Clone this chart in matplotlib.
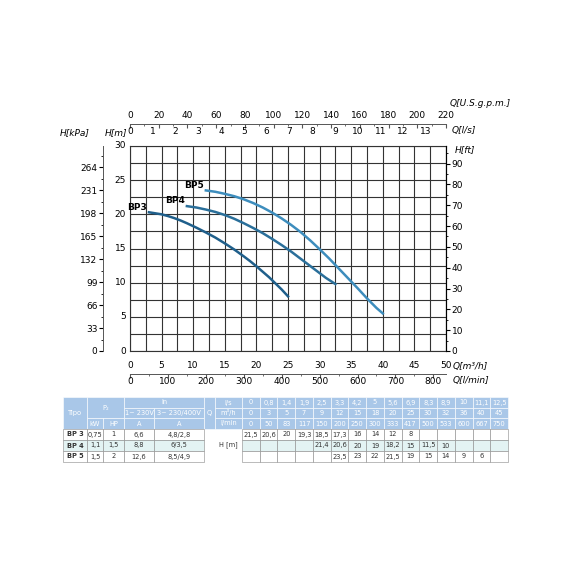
import matplotlib
matplotlib.use("Agg")
import matplotlib.pyplot as plt
import numpy as np
from matplotlib.patches import Rectangle

# ---- data ----
bp3_q = [3, 4, 5, 6, 7, 8, 9, 10.5, 12, 13.5, 15, 16.5, 18, 19, 20, 21, 22, 23, 24, 25]
bp3_h = [20.3, 20.15, 20.0, 19.75, 19.45, 19.1, 18.7, 18.05, 17.35, 16.6, 15.75, 14.85, 13.85, 13.15, 12.4, 11.6, 10.8, 9.9, 9.0, 8.0]
bp4_q = [9, 10.5, 12, 13.5, 15, 16.5, 18, 19.5, 21, 22.5, 24, 25.5, 27, 28.5, 30, 31, 32, 32.5]
bp4_h = [21.2, 21.0, 20.7, 20.35, 19.9, 19.35, 18.7, 18.0, 17.25, 16.4, 15.5, 14.55, 13.5, 12.45, 11.4, 10.7, 10.1, 9.8]
bp5_q = [12, 13.5, 15, 16.5, 18, 19.5, 21, 22.5, 24, 25.5, 27, 28.5, 30, 31.5, 33, 34.5, 36, 37.5, 39, 40]
bp5_h = [23.5, 23.3, 23.0, 22.65, 22.2, 21.65, 21.0, 20.25, 19.4, 18.45, 17.4, 16.2, 14.9, 13.55, 12.1, 10.65, 9.2, 7.7, 6.3, 5.5]
curves = [("BP3", bp3_q, bp3_h, "#1f5f8b"), ("BP4", bp4_q, bp4_h, "#2a6f9a"), ("BP5", bp5_q, bp5_h, "#3d8dbd")]

ls_q = ["0", "0,8", "1,4", "1,9", "2,5", "3,3", "4,2", "5", "5,6", "6,9", "8,3", "8,9", "10", "11,1", "12,5"]
m3h_q = ["0", "3", "5", "7", "9", "12", "15", "18", "20", "25", "30", "32", "36", "40", "45"]
lmin_q = ["0", "50", "83", "117", "150", "200", "250", "300", "333", "417", "500", "533", "600", "667", "750"]
types = ["BP 3", "BP 4", "BP 5"]
kw = ["0,75", "1,1", "1,5"]
hp = ["1", "1,5", "2"]
a1 = ["6,6", "8,8", "12,6"]
a3 = ["4,8/2,8", "6/3,5", "8,5/4,9"]
h_rows = [
    ["21,5", "20,6", "20", "19,3", "18,5", "17,3", "16", "14", "12", "8", "", "", "", "", ""],
    ["", "", "", "", "21,4", "20,6", "20", "19", "18,2", "15", "11,5", "10", "", "", ""],
    ["", "", "", "", "", "23,5", "23", "22", "21,5", "19", "15", "14", "9", "6", ""],
]

W = 570
fig = plt.figure(figsize=(5.7, 5.7), dpi=100)
L, R, T, B = 130, 446, 146, 351
ax = fig.add_axes([L / W, 1 - B / W, (R - L) / W, (B - T) / W])
ax.set_xlim(0, 50); ax.set_ylim(0, 30)
ax.set_xticks(np.arange(0, 50.1, 2.5)); ax.set_yticks(np.arange(0, 30.1, 2.5))
ax.grid(True, color="#333333", lw=0.8)
ax.tick_params(length=0, labelleft=False, labelbottom=False)
for s in ax.spines.values():
    s.set_color("#333333"); s.set_linewidth(0.8)
fs = 6.5
for y in range(0, 31, 5):
    fig.text((L - 4) / W, 1 - (B - y / 30 * (B - T)) / W, str(y), ha="right", va="center", fontsize=fs)
for name, q, h, c in curves:
    ax.plot(q, h, color=c, lw=1.8, solid_joinstyle="round")
    ax.text(q[0] - 0.3, h[0] + 0.1, name, ha="right", va="bottom", fontsize=6.5, fontweight="bold")

def hline_axis(y, x0, x1, vmax, major, minor_n, labels_y, vals, lab_va):
    a = fig.add_axes([x0 / W, 1 - y / W, (x1 - x0) / W, 0.0001])
    a.set_xlim(0, vmax)
    for s in ["top", "left", "right"]:
        a.spines[s].set_visible(False)
    a.spines["bottom"].set_color("#555555"); a.spines["bottom"].set_linewidth(0.7)
    a.set_yticks([])
    a.set_xticks(vals); a.set_xticklabels([])
    a.set_xticks(np.arange(0, vmax + 1e-9, major / minor_n), minor=True)
    a.tick_params(axis="x", which="major", length=3, direction="out", color="#555555")
    a.tick_params(axis="x", which="minor", length=1.5, direction="out", color="#555555")
    for v in vals:
        fig.text((x0 + v / vmax * (x1 - x0)) / W, 1 - labels_y / W, f"{v:g}", ha="center", va=lab_va, fontsize=fs)
    return a

# top axes
hline_axis(124, L, R, 220, 20, 2, 115, list(range(0, 221, 20)), "center")
lsmax = 50 / 3.6
for v in range(0, 14):
    fig.text((L + v / lsmax * (R - L)) / W, 1 - 131 / W, str(v), ha="center", va="center", fontsize=fs)
fig.text(450 / W, 1 - 103 / W, "Q[U.S.g.p.m.]", fontsize=6.5, style="italic", va="center")
fig.text(452 / W, 1 - 131 / W, "Q[l/s]", fontsize=6.5, style="italic", va="center")
# bottom axes
for v in range(0, 51, 5):
    fig.text((L + v / 50 * (R - L)) / W, 1 - 366 / W, str(v), ha="center", va="center", fontsize=fs)
fig.text(453 / W, 1 - 366 / W, "Q[m³/h]", fontsize=6.5, style="italic", va="center")
lminmax = 50 / 0.06
hline_axis(374, L, R, lminmax, 100, 2, 381, list(range(0, 801, 100)), "center")
fig.text(453 / W, 1 - 381 / W, "Q[l/min]", fontsize=6.5, style="italic", va="center")

# kPa axis
ka = fig.add_axes([103 / W, 1 - B / W, 0.0001, (B - T) / W])
ka.set_ylim(0, 30 * 9.81)
for s in ["top", "bottom", "right"]:
    ka.spines[s].set_visible(False)
ka.spines["left"].set_color("#555555"); ka.spines["left"].set_linewidth(0.7)
ka.set_xticks([])
ka.set_yticks(range(0, 265, 33)); ka.set_yticklabels([str(v) for v in range(0, 265, 33)], fontsize=fs)
ka.set_yticks(np.arange(0, 290, 16.5), minor=True)
ka.tick_params(axis="y", which="major", length=3, pad=1)
ka.tick_params(axis="y", which="minor", length=1.5)
fig.text(60 / W, 1 - 133 / W, "H[kPa]", fontsize=6.5, style="italic", va="center")
fig.text(105 / W, 1 - 133 / W, "H[m]", fontsize=6.5, style="italic", va="center")
# ft axis
fa = ax.twinx()
fa.set_ylim(0, 30 * 3.281)
fa.set_yticks(range(0, 91, 10)); fa.set_yticklabels([str(v) for v in range(0, 91, 10)], fontsize=fs)
fa.set_yticks(range(0, 98, 5), minor=True)
fa.tick_params(axis="y", which="major", length=3, pad=1)
fa.tick_params(axis="y", which="minor", length=1.5)
for s in ["top", "left", "bottom"]:
    fa.spines[s].set_visible(False)
fig.text(455 / W, 1 - 150 / W, "H[ft]", fontsize=6.5, style="italic", va="center")

# ---- table ----
ta = fig.add_axes([0, 0, 1, 1]); ta.set_xlim(0, W); ta.set_ylim(W, 0); ta.axis("off")
hdr = "#a9c7e8"; line = "#888888"
dw = (508 - 242) / 15
dcols = [242 + i * dw for i in range(16)]
rows = [397, 408, 418, 429, 440, 451, 462]
tf = 4.8
def cell(x0, x1, y0, y1, txt="", fc="white", tc="#333333", bold=False, ec=line):
    ta.add_patch(Rectangle((x0, y0), x1 - x0, y1 - y0, fc=fc, ec=ec, lw=0.4))
    if txt:
        ta.text((x0 + x1) / 2, (y0 + y1) / 2, txt, ha="center", va="center", fontsize=tf, color=tc,
                fontweight="bold" if bold else "normal")
cell(63, 87, 397, 429, "Tipo", hdr, "white", ec="white")
cell(87, 124, 397, 418, "P₂", hdr, "white", ec="white")
cell(87, 103, 418, 429, "kW", hdr, "white", ec="white")
cell(103, 124, 418, 429, "HP", hdr, "white", ec="white")
cell(124, 204, 397, 408, "In", hdr, "white", ec="white")
cell(124, 154, 408, 418, "1~ 230V", hdr, "white", ec="white")
cell(154, 204, 408, 418, "3~ 230/400V", hdr, "white", ec="white")
cell(124, 154, 418, 429, "A", hdr, "white", ec="white")
cell(154, 204, 418, 429, "A", hdr, "white", ec="white")
cell(204, 215, 397, 429, "Q", hdr, "white", ec="white")
for r, lab, vals in [(0, "l/s", ls_q), (1, "m³/h", m3h_q), (2, "l/min", lmin_q)]:
    cell(215, 242, rows[r], rows[r + 1], lab, hdr, "white", ec="white")
    for i, v in enumerate(vals):
        cell(dcols[i], dcols[i + 1], rows[r], rows[r + 1], v, hdr, "white", ec="white")
for k in range(3):
    y0, y1 = rows[3 + k], rows[4 + k]
    bg = "#e3f3f3" if k == 1 else "white"
    cell(63, 87, y0, y1, types[k], bg, bold=True)
    cell(87, 103, y0, y1, kw[k], bg)
    cell(103, 124, y0, y1, hp[k], bg)
    cell(124, 154, y0, y1, a1[k], bg)
    cell(154, 204, y0, y1, a3[k], bg)
    for i, v in enumerate(h_rows[k]):
        cell(dcols[i], dcols[i + 1], y0, y1, v, bg)
ta.text(228, 445, "H [m]", ha="center", va="center", fontsize=tf, color="#333333")

fig.savefig("out.png", dpi=100, facecolor="white")
